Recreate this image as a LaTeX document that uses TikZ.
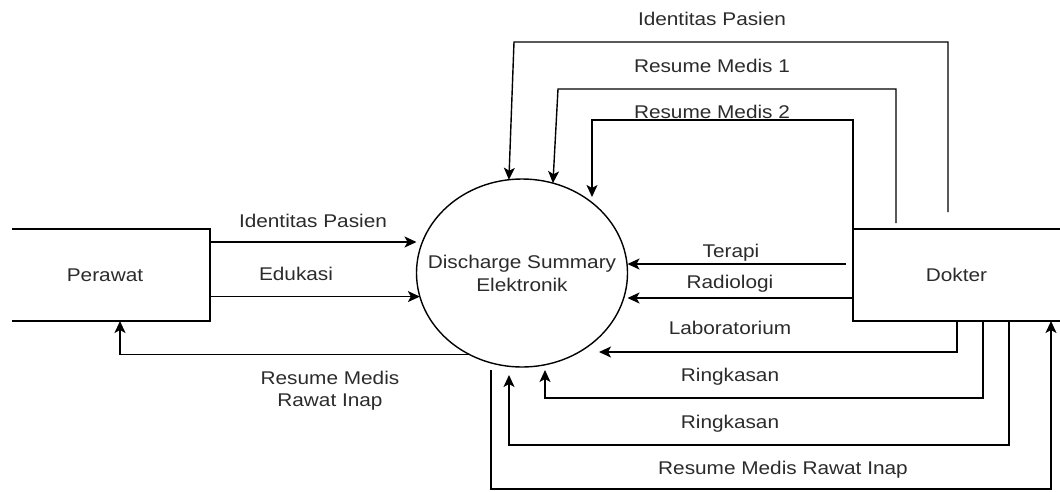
\documentclass[tikz,border=0pt]{standalone}
\usepackage{fontspec}
\setmainfont{Liberation Sans}[FakeStretch=1.13]
\usetikzlibrary{shapes.geometric,arrows.meta}
\definecolor{txt}{HTML}{2B2B2B}
\definecolor{ln}{HTML}{000000}
\begin{document}
\begin{tikzpicture}[x=1pt,y=-1pt,
  lbl/.style={font=\fontsize{18.4}{22}\selectfont, text=txt, inner sep=0pt, anchor=base},
  lbl2/.style={font=\fontsize{18.4}{22}\selectfont, text=txt, inner sep=0pt, align=center},
  flow/.style={line width=1.4pt, draw=ln, -{Stealth[length=12pt,width=11pt,inset=3pt]}},
  plain/.style={line width=1.4pt, draw=ln},
  entity/.style={rectangle, minimum height=92pt, inner sep=0pt, outer sep=0pt,
    font=\fontsize{18.4}{22}\selectfont, text=txt},
  process/.style={ellipse, draw=ln, line width=1.4pt, minimum width=211pt, minimum height=188pt,
    inner sep=0pt, outer sep=0pt}]
\useasboundingbox (0,0) rectangle (1060,491);

% nodes
\node[process] (dss) at (522,273) {};
\node[lbl2, font=\fontsize{18.4}{23}\selectfont] (dsslbl) at (dss.center) {Discharge Summary\\Elektronik};
\node[entity, minimum width=198pt] (per) at (111,275) {};
\draw[plain] (per.north west) -- (per.north east) -- (per.south east) -- (per.south west);
\node[lbl] (perlbl) at (105,281) {Perawat};
\node[entity, minimum width=207pt] (dok) at (956.5,275) {Dokter};
\draw[plain] (dok.north east) -- (dok.north west) -- (dok.south west) -- (dok.south east);

% free ends
\coordinate (c1) at (948,212);
\coordinate (c2) at (896,223);
\coordinate (c3) at (592,197);
\coordinate (c4) at (846,264);
\coordinate (c5) at (599,352);
\coordinate (c6) at (545,370);
\coordinate (c7) at (509,375);
\coordinate (c8) at (491,370);

% Perawat -> process
\draw[flow] (per.east |- 0,242) -- (dss.west |- 0,242);
\node[lbl] at (313,227) {Identitas Pasien};
\draw[flow] (per.east |- dss.193) -- (dss.193);
\node[lbl] at (296,280) {Edukasi};
% process -> Perawat
\draw[flow] (dss.237) -| (per.south -| 120,0);
\node[lbl2] at (330,391) {Resume Medis\\Rawat Inap};

% Dokter -> process (top)
\draw[flow] (c1) |- (514,42) -- (dss.98);
\node[lbl] at (712,25) {Identitas Pasien};
\draw[flow] (c2) |- (558,89) -- (dss.71);
\node[lbl] at (712,72) {Resume Medis 1};
\draw[flow] (dok.north west) |- (592,120) -- (c3);
\node[lbl] at (712,118) {Resume Medis 2};

% Dokter -> process (side)
\draw[flow] (c4) -- (dss.east |- c4);
\node[lbl] at (731,257) {Terapi};
\draw[flow] (dok.west |- 0,298) -- (dss.east |- 0,298);
\node[lbl] at (730,288) {Radiologi};

% Dokter -> process (bottom)
\draw[flow] (dok.south -| 957,0) |- (c5);
\node[lbl] at (730,334) {Laboratorium};
\draw[flow] (dok.south -| 983,0) |- (545,398) -- (c6);
\node[lbl] at (730,381) {Ringkasan};
\draw[flow] (dok.south -| 1009,0) |- (509,445) -- (c7);
\node[lbl] at (730,428) {Ringkasan};

% process -> Dokter
\draw[flow] (c8) |- (1051,489) -- (dok.south -| 1051,0);
\node[lbl] at (783,474) {Resume Medis Rawat Inap};
\end{tikzpicture}
\end{document}
